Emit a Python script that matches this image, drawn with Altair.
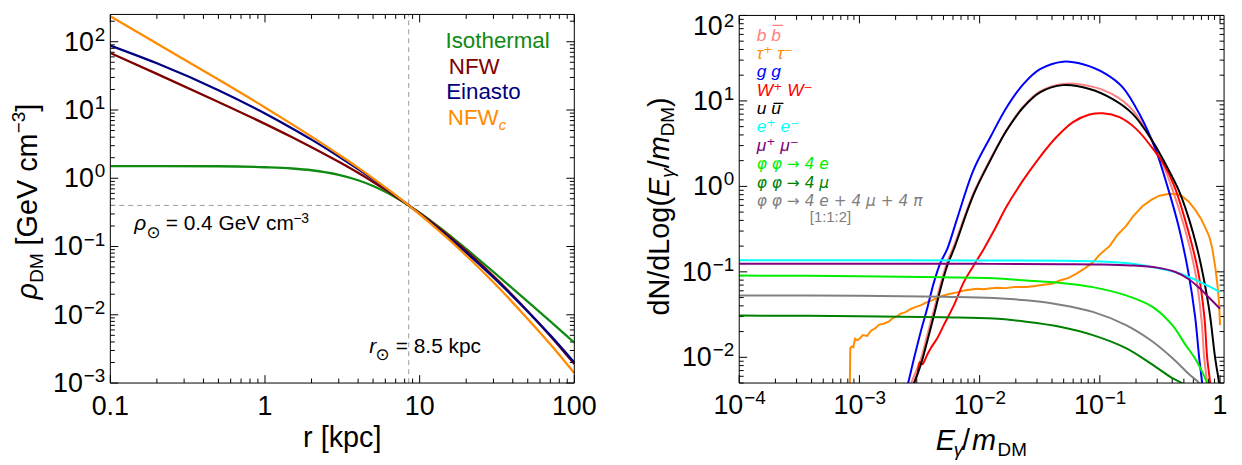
import altair as alt
import pandas as pd
import math

# ---------------- Left panel: dark-matter density profiles ----------------
r_kpc = [0.1, 0.2, 0.5, 1, 1.5, 2, 3, 4, 5, 6, 7, 8.5, 10, 12, 15, 20, 30, 50, 70, 100]
rho_isothermal = [1.51, 1.51, 1.50, 1.45, 1.39, 1.31, 1.12, 0.935, 0.77, 0.633, 0.524, 0.40,
                  0.312, 0.231, 0.157, 0.092, 0.0424, 0.0156, 0.0080, 0.0039]
rho_nfw = [68.4, 33.8, 13.1, 6.26, 3.98, 2.85, 1.74, 1.20, 0.884, 0.681, 0.541, 0.40,
           0.307, 0.225, 0.150, 0.0863, 0.0368, 0.0113, 0.0049, 0.0019]
rho_einasto = [87.8, 48.3, 19.5, 8.90, 5.37, 3.68, 2.08, 1.36, 0.961, 0.718, 0.556, 0.40,
               0.301, 0.217, 0.143, 0.0813, 0.0352, 0.0112, 0.0050, 0.0020]
rho_nfwc = [236, 94.0, 27.9, 10.9, 6.16, 4.07, 2.23, 1.43, 0.997, 0.735, 0.565, 0.40,
            0.297, 0.210, 0.135, 0.0739, 0.0299, 0.0087, 0.0037, 0.0014]
profile_names = ["Isothermal", "NFW", "Einasto", "NFW"]
profile_colors = ["#118a11", "#800000", "#000080", "#ff8c00"]
rho_sun = 0.4
r_sun = 8.5
left_x_domain = [0.1, 100]
left_y_domain = [1e-3, 251]
left_x_major = [0.1, 1, 10, 100]
left_x_labels = ["0.1", "1", "10", "100"]
left_y_major = [1e-3, 1e-2, 1e-1, 1, 10, 100]

# ---------------- Right panel: photon spectra ----------------
bb_x = [0.0026, 0.0027, 0.00324, 0.00366, 0.00417, 0.00473, 0.00537, 0.0061, 0.0089, 0.0123,
        0.0168, 0.0231, 0.0318, 0.0494, 0.0822, 0.128, 0.1875, 0.274, 0.33, 0.394, 0.5, 0.621,
        0.70, 0.738, 0.781, 0.79]
bb_y = [0.0042, 0.005, 0.0095, 0.018, 0.036, 0.072, 0.13, 0.2, 0.84, 2.1, 4.6, 8.6, 12.9, 15.8,
        14.9, 11.9, 7.8, 3.3, 1.9, 1.0, 0.35, 0.1, 0.028, 0.01, 0.005, 0.004]
tau_x = [0.00083, 0.00084, 0.00086, 0.00089, 0.00092, 0.00096, 0.001, 0.00107, 0.00116, 0.00125,
         0.00135, 0.00145, 0.00161, 0.00175, 0.0019, 0.0021, 0.0022, 0.0024, 0.0027, 0.003,
         0.0033, 0.0036, 0.004, 0.0045, 0.005, 0.0057, 0.0065, 0.0074, 0.0085, 0.0095, 0.0108,
         0.012, 0.014, 0.0165, 0.0195, 0.0244, 0.028, 0.034, 0.04, 0.0465, 0.055, 0.0634, 0.075,
         0.0875, 0.1, 0.121, 0.14, 0.165, 0.19, 0.226, 0.27, 0.313, 0.38, 0.44, 0.485, 0.55,
         0.62, 0.7, 0.76, 0.811, 0.86, 0.909, 0.95, 0.98, 1.0]
tau_y = [0.004, 0.0128, 0.0134, 0.0131, 0.0165, 0.0158, 0.0165, 0.0182, 0.0178, 0.0205, 0.0218,
         0.024, 0.0249, 0.0262, 0.0288, 0.0308, 0.0325, 0.0335, 0.037, 0.0392, 0.041, 0.044,
         0.0463, 0.05, 0.053, 0.0554, 0.0575, 0.0605, 0.062, 0.0633, 0.0625, 0.064, 0.065, 0.0645,
         0.0665, 0.0663, 0.068, 0.0705, 0.0725, 0.0791, 0.085, 0.0946, 0.11, 0.129, 0.16, 0.201,
         0.27, 0.343, 0.45, 0.585, 0.7, 0.778, 0.82, 0.81, 0.764, 0.66, 0.535, 0.41, 0.32, 0.262,
         0.19, 0.118, 0.072, 0.045, 0.0238]
gg_x = [0.00245, 0.00254, 0.00285, 0.00324, 0.00366, 0.00417, 0.00473, 0.00537, 0.0065, 0.0089,
        0.0123, 0.0168, 0.0231, 0.0318, 0.0494, 0.0724, 0.1127, 0.155, 0.213, 0.292, 0.365, 0.45,
        0.544, 0.62, 0.67, 0.71, 0.72]
gg_y = [0.0042, 0.005, 0.0098, 0.0201, 0.0372, 0.0758, 0.129, 0.184, 0.42, 1.56, 3.78, 8.43, 15.7,
        23.5, 28.8, 26.8, 20.6, 14.4, 7.06, 2.66, 1.0, 0.35, 0.1, 0.03, 0.01, 0.005, 0.004]
ww_x = [0.0028, 0.00285, 0.00303, 0.00318, 0.00335, 0.0035, 0.00366, 0.00392, 0.00444, 0.00503,
        0.0061, 0.00738, 0.0089, 0.0108, 0.0131, 0.0168, 0.0231, 0.0318, 0.0436, 0.0598, 0.0822,
        0.106, 0.1455, 0.1995, 0.274, 0.35, 0.417, 0.544, 0.658, 0.74, 0.781, 0.827, 0.835]
ww_y = [0.0042, 0.005, 0.0063, 0.0088, 0.0083, 0.0093, 0.0107, 0.0128, 0.0167, 0.0238, 0.0405,
        0.0758, 0.118, 0.184, 0.30, 0.585, 1.19, 2.22, 3.78, 5.65, 6.93, 7.17, 6.46, 4.74, 2.8,
        1.7, 1.0, 0.3, 0.1, 0.03, 0.01, 0.005, 0.004]
uu_x = [0.0027, 0.00285, 0.00324, 0.00366, 0.00417, 0.00473, 0.00537, 0.0061, 0.0089, 0.0123,
        0.0168, 0.0231, 0.0318, 0.0494, 0.0822, 0.128, 0.1875, 0.274, 0.35, 0.45, 0.55, 0.65,
        0.724, 0.82, 0.909, 0.981, 0.995]
uu_y = [0.0042, 0.005, 0.00818, 0.0153, 0.0311, 0.0634, 0.118, 0.184, 0.80, 2.03, 4.53, 8.43,
        12.6, 15.3, 13.8, 10.5, 7.06, 3.4, 1.85, 0.92, 0.42, 0.18, 0.09, 0.033, 0.01, 0.005, 0.004]
ee_x = [1e-4, 1e-3, 1e-2, 0.05, 0.1, 0.18, 0.3, 0.428, 0.55, 0.67, 0.82, 1.0]
ee_y = [0.137, 0.137, 0.136, 0.135, 0.132, 0.125, 0.111, 0.099, 0.087, 0.077, 0.067, 0.058]
mm_x = [1e-4, 1e-3, 1e-2, 0.05, 0.1, 0.18, 0.3, 0.43, 0.55, 0.67, 0.82, 1.0]
mm_y = [0.124, 0.124, 0.124, 0.123, 0.122, 0.119, 0.112, 0.099, 0.082, 0.065, 0.049, 0.037]
e4_x = [1e-4, 1e-3, 0.005, 0.0131, 0.0246, 0.0465, 0.0875, 0.165, 0.274, 0.401, 0.516, 0.625,
        0.72, 0.78, 0.8]
e4_y = [0.0904, 0.089, 0.0865, 0.0843, 0.0791, 0.0743, 0.0663, 0.053, 0.0389, 0.0238, 0.014,
        0.0095, 0.0065, 0.005, 0.0042]
mu4_x = [1e-4, 1e-3, 0.005, 0.0131, 0.0244, 0.0465, 0.0875, 0.165, 0.274, 0.401, 0.48, 0.5]
mu4_y = [0.0308, 0.0303, 0.0294, 0.0284, 0.0261, 0.0228, 0.0182, 0.0128, 0.0082, 0.0057, 0.005,
         0.0046]
mix_x = [1e-4, 1e-3, 0.005, 0.0131, 0.0244, 0.0465, 0.0875, 0.165, 0.274, 0.401, 0.555, 0.67, 0.7]
mix_y = [0.053, 0.0525, 0.051, 0.0494, 0.0464, 0.0413, 0.034, 0.0238, 0.0153, 0.0098, 0.0063,
         0.005, 0.0043]

channel_labels = ["b b", "τ⁺ τ⁻", "g g", "W⁺ W⁻", "u u", "e⁺ e⁻", "μ⁺ μ⁻",
                  "φ φ → 4 e", "φ φ → 4 μ", "φ φ → 4 e + 4 μ + 4 π"]
channel_colors = ["#ff8080", "#ff8c00", "#0000ff", "#ff0000", "#000000", "#00ffff", "#800080",
                  "#00ee00", "#008000", "#808080"]
ratio_label = "[1:1:2]"
right_x_domain = [1e-4, 1.08]
right_y_domain = [0.005, 100]
right_x_major = [1e-4, 1e-3, 1e-2, 1e-1, 1]
right_y_major = [1e-2, 1e-1, 1, 10, 100]

# ---------------- layout constants (pixels, relative to plot origin) ----------------
FONT = "Liberation Sans, DejaVu Sans, sans-serif"
ONE = pd.DataFrame({"k": [0]})
LW, LH = 467, 371
RX0, RX1, RY0 = 633, 1121, 1

lx = alt.Scale(type="log", domain=left_x_domain, range=[0, LW], nice=False)
ly = alt.Scale(type="log", domain=left_y_domain, range=[LH, 0], nice=False)
rx = alt.Scale(type="log", domain=right_x_domain, range=[RX0, RX1], nice=False)
ry = alt.Scale(type="log", domain=right_y_domain, range=[LH, RY0], nice=False)


def minors(e_from, e_to, m_from=2, m_to=9):
    return [m * 10.0 ** e for e in range(e_from, e_to + 1) for m in range(m_from, m_to + 1)]


def exp_str(v):
    e = int(round(math.log10(v)))
    return ("−" if e < 0 else "") + str(abs(e))


def label(s, x, y, size, color="black", italic=False, align="left", angle=0, font=FONT):
    kw = dict(fontSize=size, font=font, color=color, align=align, baseline="alphabetic")
    if italic:
        kw["fontStyle"] = "italic"
    if angle:
        kw["angle"] = angle
    return alt.Chart(ONE).mark_text(**kw).encode(
        x=alt.value(x), y=alt.value(y), text=alt.value(s))


def curve(xv, yv, color, xs, ys, width=2.0, interp="monotone"):
    df = pd.DataFrame({"x": xv, "y": yv})
    return alt.Chart(df).mark_line(color=color, strokeWidth=width, interpolate=interp,
                                   clip=True).encode(
        x=alt.X("x:Q", scale=xs, axis=None), y=alt.Y("y:Q", scale=ys, axis=None))


def ticks(xmaj, xmin, ymaj, ymin, xs, ys, x0, x1, y0, y1, big=8, small=4.5):
    out = []
    for vals, L in ((xmaj, big), (xmin, small)):
        base = alt.Chart(pd.DataFrame({"v": vals})).mark_rule(color="black", strokeWidth=1)
        xe = alt.X("v:Q", scale=xs, axis=None)
        out.append(base.encode(x=xe, y=alt.value(y1), y2=alt.value(y1 - L)))
        out.append(base.encode(x=xe, y=alt.value(y0), y2=alt.value(y0 + L)))
    for vals, L in ((ymaj, big), (ymin, small)):
        base = alt.Chart(pd.DataFrame({"v": vals})).mark_rule(color="black", strokeWidth=1)
        ye = alt.Y("v:Q", scale=ys, axis=None)
        out.append(base.encode(y=ye, x=alt.value(x0), x2=alt.value(x0 + L)))
        out.append(base.encode(y=ye, x=alt.value(x1), x2=alt.value(x1 - L)))
    return out


def frame(xs, ys, xd, yd):
    df = pd.DataFrame({"a": [xd[0]], "b": [xd[1]], "c": [yd[0]], "d": [yd[1]]})
    return alt.Chart(df).mark_rect(filled=False, stroke="black", strokeWidth=1).encode(
        x=alt.X("a:Q", scale=xs, axis=None), x2="b:Q",
        y=alt.Y("c:Q", scale=ys, axis=None), y2="d:Q")


def ylabels(vals, ys, xpix):
    out = []
    df = pd.DataFrame({"v": vals, "e": [exp_str(v) for v in vals]})
    for neg in (False, True):
        sub = df[df["e"].str.startswith("−") == neg]
        if sub.empty:
            continue
        ew = 22.7 if neg else 11.6
        ye = alt.Y("v:Q", scale=ys, axis=None)
        out.append(alt.Chart(sub).mark_text(font=FONT, fontSize=27, align="right",
                                            baseline="alphabetic", dx=-ew, dy=9).encode(
            x=alt.value(xpix), y=ye, text=alt.value("10")))
        out.append(alt.Chart(sub).mark_text(font=FONT, fontSize=19, align="right",
                                            baseline="alphabetic", dy=-1).encode(
            x=alt.value(xpix), y=ye, text="e:N"))
    return out


# ================= LEFT PANEL =================
left_layers = []
left_layers += ticks(left_x_major, minors(-1, 1), left_y_major, minors(-3, 1) + [200],
                     lx, ly, 0, LW, 0, LH)
left_layers.append(
    alt.Chart(pd.DataFrame({"a": [left_x_domain[0]], "b": [left_x_domain[1]], "y": [rho_sun]}))
    .mark_rule(color="#999999", strokeWidth=1, strokeDash=[5, 4])
    .encode(x=alt.X("a:Q", scale=lx, axis=None), x2="b:Q", y=alt.Y("y:Q", scale=ly, axis=None)))
left_layers.append(
    alt.Chart(pd.DataFrame({"x": [r_sun], "a": [left_y_domain[0]], "b": [left_y_domain[1]]}))
    .mark_rule(color="#999999", strokeWidth=1, strokeDash=[5, 4])
    .encode(x=alt.X("x:Q", scale=lx, axis=None), y=alt.Y("a:Q", scale=ly, axis=None), y2="b:Q"))
for vals, col in zip([rho_isothermal, rho_nfw, rho_einasto, rho_nfwc], profile_colors):
    left_layers.append(curve(r_kpc, vals, col, lx, ly, width=2.3))
left_layers.append(frame(lx, ly, left_x_domain, left_y_domain))

# tick labels
left_layers.append(
    alt.Chart(pd.DataFrame({"v": left_x_major, "t": left_x_labels}))
    .mark_text(font=FONT, fontSize=27, align="center", baseline="alphabetic")
    .encode(x=alt.X("v:Q", scale=lx, axis=None), y=alt.value(LH + 32), text="t:N"))
left_layers += ylabels(left_y_major, ly, -5)

# axis titles
left_layers += [
    label("r [kpc]", 233.5, 435, 29, align="center"),
    label("ρ", -73.5, 287, 29, italic=True, angle=270),
    label("DM", -67.5, 270, 19, angle=270),
    label("[GeV cm", -73.5, 232.5, 29, angle=270),
    label("−3", -85.5, 119.7, 19, angle=270),
    label("]", -73.5, 98, 29, angle=270),
]
# annotations
left_layers += [
    label("ρ", 24, 217, 21, italic=True),
    label("⊙", 36.5, 225, 17, font="DejaVu Sans"),
    label("= 0.4 GeV cm", 55.7, 217, 21),
    label("−3", 184, 210, 14),
    label("r", 260.7, 341, 21, italic=True),
    label("⊙", 267, 348, 17, font="DejaVu Sans"),
    label("= 8.5 kpc", 287.3, 341, 21),
]
# legend
left_layers += [
    label(profile_names[0], 337.3, 33.7, 22.5, color=profile_colors[0]),
    label(profile_names[1], 340.7, 59.7, 22.5, color=profile_colors[1]),
    label(profile_names[2], 338, 85.3, 22.5, color=profile_colors[2]),
    label(profile_names[3], 339.7, 111, 22.5, color=profile_colors[3]),
    label("c", 391, 116, 15, color=profile_colors[3], italic=True),
]

# ================= RIGHT PANEL =================
right_layers = []
right_layers += ticks(right_x_major, minors(-4, -1), right_y_major,
                      minors(-3, -3, 5, 9) + minors(-2, 1), rx, ry, RX0, RX1, RY0, LH)
series = [(bb_x, bb_y), (tau_x, tau_y), (gg_x, gg_y), (ww_x, ww_y), (uu_x, uu_y),
          (ee_x, ee_y), (mm_x, mm_y), (e4_x, e4_y), (mu4_x, mu4_y), (mix_x, mix_y)]
for (xv, yv), col in zip(series, channel_colors):
    interp = "linear" if col == "#ff8c00" else "catmull-rom"
    right_layers.append(curve(xv, yv, col, rx, ry, width=2.0, interp=interp))
right_layers.append(frame(rx, ry, right_x_domain, right_y_domain))

# x tick labels
neg_ticks = [v for v in right_x_major if v < 1]
xdf = pd.DataFrame({"v": neg_ticks, "e": [exp_str(v) for v in neg_ticks]})
right_layers.append(
    alt.Chart(xdf).mark_text(font=FONT, fontSize=27, align="left", baseline="alphabetic", dx=-26)
    .encode(x=alt.X("v:Q", scale=rx, axis=None), y=alt.value(LH + 31), text=alt.value("10")))
right_layers.append(
    alt.Chart(xdf).mark_text(font=FONT, fontSize=19, align="left", baseline="alphabetic", dx=5)
    .encode(x=alt.X("v:Q", scale=rx, axis=None), y=alt.value(LH + 21), text="e:N"))
right_layers.append(
    alt.Chart(pd.DataFrame({"v": [1.0], "t": ["1"]}))
    .mark_text(font=FONT, fontSize=27, align="center", baseline="alphabetic")
    .encode(x=alt.X("v:Q", scale=rx, axis=None), y=alt.value(LH + 31), text="t:N"))
# y tick labels (top label nudged down to stay inside the page)
right_layers += ylabels([v for v in right_y_major if v < 100], ry, RX0 - 5)
right_layers += [
    label("10", RX0 - 5 - 11.6, 21, 27, align="right"),
    label("2", RX0 - 5, 13, 19, align="right"),
]

# axis titles
right_layers += [
    label("E", 830.7, 438.7, 29, italic=True),
    label("γ", 849, 444, 19, italic=True),
    label("/", 857.3, 438.7, 29),
    label("m", 867.3, 438.7, 29, italic=True),
    label("DM", 893, 444, 19),
    label("dN/dLog(", 562, 303, 29, angle=270),
    label("E", 562, 183.7, 29, italic=True, angle=270),
    label("γ", 567, 164.4, 19, italic=True, angle=270),
    label("/", 562, 154.9, 29, angle=270),
    label("m", 562, 146.8, 29, italic=True, angle=270),
    label("DM", 567, 122.6, 19, angle=270),
    label(")", 562, 93.1, 29, angle=270),
]
# legend
for i, (txt, col) in enumerate(zip(channel_labels, channel_colors)):
    if "→" in txt:
        right_layers.append(label(txt, 650.7, 26.3 + 18.5 * i, 15.5, color=col, italic=True,
                                  font="DejaVu Sans"))
    else:
        right_layers.append(label(txt, 650.7, 26.3 + 18.5 * i, 17.5, color=col, italic=True))
right_layers.append(label(ratio_label, 704, 209, 15, color="#808080"))
right_layers.append(alt.Chart(ONE).mark_rule(color=channel_colors[0], strokeWidth=1.3).encode(
    x=alt.value(666.5), x2=alt.value(677), y=alt.value(11)))
right_layers.append(alt.Chart(ONE).mark_rule(color=channel_colors[4], strokeWidth=1.3).encode(
    x=alt.value(667.5), x2=alt.value(677.5), y=alt.value(89.5)))

left = alt.layer(*left_layers)
right = alt.layer(*right_layers)

chart = (
    alt.layer(left, right)
    .resolve_scale(x="independent", y="independent")
    .properties(width=RX1, height=LH,
                padding={"left": 103, "top": 5, "right": 10, "bottom": 81},
                autosize=alt.AutoSizeParams(type="none"),
                background="white")
    .configure_view(stroke=None)
)

chart.save("out.html", embed_options={"renderer": "svg", "actions": False})
